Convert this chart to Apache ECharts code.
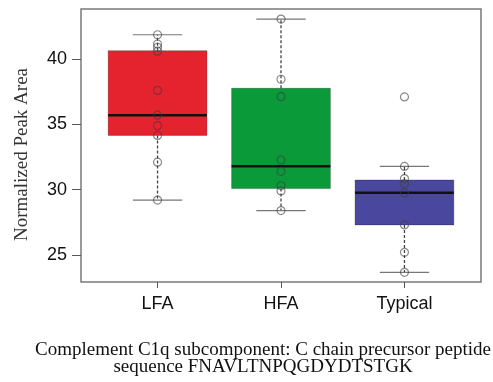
<!DOCTYPE html>
<html lang="en">
<head>
    <meta charset="UTF-8">
    <title>C1q peptide boxplot</title>
    <script src="https://cdn.jsdelivr.net/npm/echarts@6/dist/echarts.min.js"></script>
</head>
<style>
    body{
        margin: 0;
        padding: 0;
        background: #fff;
    }
</style>
<body>
<div id="main" style="width: 493px;height:382px;"></div>
<script>
    // groups and their box stats: [low whisker, Q1, median, Q3, high whisker]
    var groups = ['LFA', 'HFA', 'Typical'];
    var boxColors = ['#e5232f', '#0b9a3a', '#4a489e'];
    var boxStats = [
        [29.2, 34.15, 35.7, 40.64, 41.86],
        [28.4, 30.08, 31.8, 37.76, 43.06],
        [23.67, 27.3, 29.77, 30.74, 31.78]
    ];
    // individual samples
    var lfaPoints = [41.86, 41.15, 40.9, 40.6, 37.6, 35.7, 34.9, 34.15, 32.1, 29.2];
    var hfaPoints = [43.06, 38.45, 37.12, 32.27, 31.4, 30.3, 29.9, 28.4];
    var typicalPoints = [37.1, 31.78, 30.85, 30.45, 29.75, 27.3, 25.2, 23.67];
    var yTicks = [25, 30, 35, 40];

    var boxData = [];
    for (var i = 0; i < groups.length; i++) {
        boxData.push([i + 1].concat(boxStats[i]));
    }
    var pts = [];
    [lfaPoints, hfaPoints, typicalPoints].forEach(function (arr, gi) {
        arr.forEach(function (v) { pts.push([gi + 1, v]); });
    });

    var chart = echarts.init(document.getElementById('main'));
    var option = {
        backgroundColor: '#fff',
        animation: false,
        title: {
            text: 'Complement C1q subcomponent: C chain precursor peptide\nsequence FNAVLTNPQGDYDTSTGK',
            left: 258,
            top: 337,
            textAlign: 'center',
            textStyle: {
                fontFamily: 'Liberation Serif',
                fontWeight: 'normal',
                fontSize: 19,
                lineHeight: 17,
                color: '#111'
            }
        },
        grid: {
            left: 81, top: 9, right: 12, bottom: 100,
            show: true,
            borderColor: '#7a7a7a',
            borderWidth: 1.5
        },
        xAxis: {
            type: 'value',
            min: 0.38,
            max: 3.62,
            axisLine: {show: false},
            splitLine: {show: false},
            axisTick: {
                show: true,
                customValues: [1, 2, 3],
                length: 6,
                lineStyle: {color: '#555'}
            },
            axisLabel: {
                customValues: [1, 2, 3],
                formatter: function (v) { return groups[Math.round(v) - 1]; },
                margin: 13,
                fontFamily: 'Liberation Sans',
                fontSize: 18,
                color: '#111'
            }
        },
        yAxis: {
            type: 'value',
            min: 22.93,
            max: 43.83,
            name: 'Normalized Peak Area',
            nameLocation: 'middle',
            nameGap: 49,
            nameTextStyle: {
                fontFamily: 'Liberation Serif',
                fontSize: 19,
                color: '#333',
                padding: [0, 18, 0, 0]
            },
            axisLine: {show: false},
            splitLine: {show: false},
            axisTick: {
                show: true,
                customValues: yTicks,
                length: 9,
                lineStyle: {color: '#555'}
            },
            axisLabel: {
                customValues: yTicks,
                margin: 14,
                fontFamily: 'Liberation Sans',
                fontSize: 18,
                color: '#111'
            }
        },
        series: [{
            type: 'custom',
            data: boxData,
            encode: {x: 0, y: [1, 2, 3, 4, 5]},
            z: 2,
            renderItem: function (params, api) {
                var x = api.value(0);
                var hw = 0.4, cw = 0.2;
                var p = function (dx, v) { return api.coord([x + dx, v]); };
                var low = api.value(1), q1 = api.value(2), med = api.value(3),
                    q3 = api.value(4), high = api.value(5);
                var dash = {stroke: '#444', lineWidth: 1.3, lineDash: [3, 2]};
                var cap = {stroke: '#777', lineWidth: 1.2};
                var tl = p(-hw, q3), br = p(hw, q1);
                return {
                    type: 'group',
                    children: [
                        {type: 'line', shape: {x1: p(0, q3)[0], y1: p(0, q3)[1], x2: p(0, high)[0], y2: p(0, high)[1]}, style: dash},
                        {type: 'line', shape: {x1: p(0, q1)[0], y1: p(0, q1)[1], x2: p(0, low)[0], y2: p(0, low)[1]}, style: dash},
                        {type: 'line', shape: {x1: p(-cw, high)[0], y1: p(-cw, high)[1], x2: p(cw, high)[0], y2: p(cw, high)[1]}, style: cap},
                        {type: 'line', shape: {x1: p(-cw, low)[0], y1: p(-cw, low)[1], x2: p(cw, low)[0], y2: p(cw, low)[1]}, style: cap},
                        {type: 'rect', shape: {x: tl[0], y: tl[1], width: br[0] - tl[0], height: br[1] - tl[1]},
                            style: {fill: boxColors[params.dataIndex], stroke: 'rgba(0,0,0,0.25)', lineWidth: 1}},
                        {type: 'line', shape: {x1: p(-hw, med)[0], y1: p(-hw, med)[1], x2: p(hw, med)[0], y2: p(hw, med)[1]},
                            style: {stroke: '#111', lineWidth: 2.5}}
                    ]
                };
            }
        }, {
            type: 'scatter',
            data: pts,
            z: 3,
            symbol: 'circle',
            symbolSize: 8,
            itemStyle: {
                color: 'rgba(0,0,0,0)',
                borderColor: 'rgba(60,60,60,0.75)',
                borderWidth: 1.2
            }
        }]
    };
    chart.setOption(option);
</script>
</body>
</html>
